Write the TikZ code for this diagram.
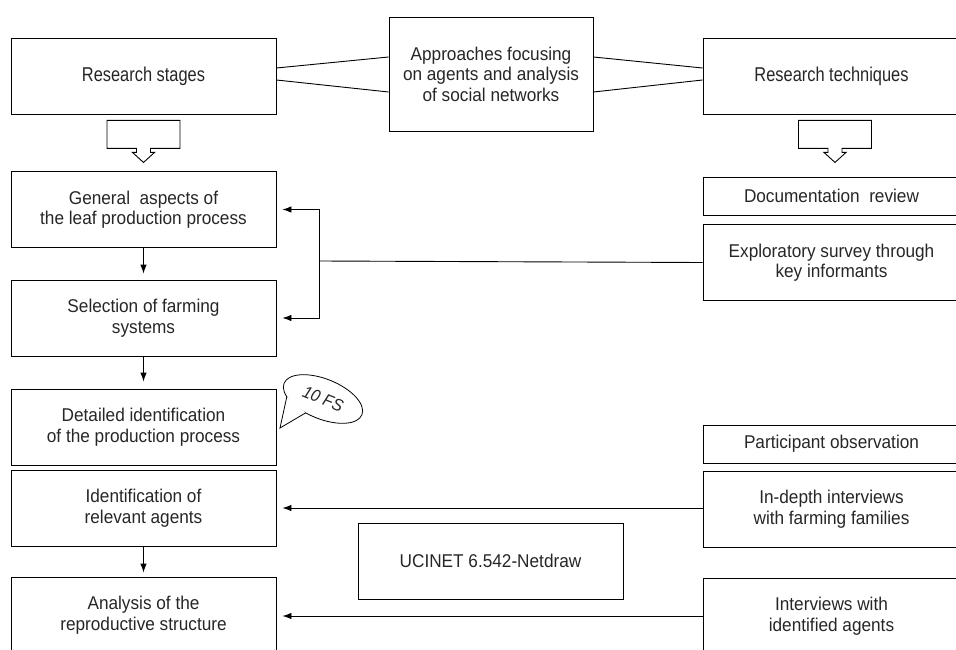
\documentclass[tikz,border=0pt]{standalone}
\usepackage{fontspec}
\setmainfont[FakeStretch=0.93]{Liberation Sans}
\newfontfamily\headfont[FakeStretch=0.82]{Liberation Sans}
\usepackage{tikz}
\usetikzlibrary{arrows.meta}

\begin{document}
\begin{tikzpicture}[x=1pt,y=-1pt,>={Latex[length=9pt,width=6.5pt]},
  box/.style={draw,line width=0.9pt,align=center,inner sep=0pt,
    text=black!85,font=\fontsize{18.5}{20.5}\selectfont},
  head/.style={box,font=\headfont\fontsize{20}{22}\selectfont},
  big/.style={box,minimum width=265pt,minimum height=76pt},
  flat/.style={box,minimum width=257pt,minimum height=38pt},
  tall/.style={box,minimum width=257pt,minimum height=76pt},
  link/.style={line width=0.9pt},
  hollow/.style={draw,line width=0.9pt,fill=white}]
\useasboundingbox (0,0) rectangle (956,650);
\clip (0,0) rectangle (956,650);
%%%HEADINGS
\node[big,head] (stages) at (143.5,76) {Research stages};
\node[box,minimum width=204pt,minimum height=114pt] (approach) at (491,74)
  {Approaches focusing\\ on agents and analysis\\ of social networks};
\node[tall,head] (techniques) at (831.5,76) {Research techniques};
%%%RESEARCH STAGES
\node[big] (general) at (143.5,209.5) {General\ \ aspects of\\ the leaf production process};
\node[big] (selection) at (143.5,318) {Selection of farming\\ systems};
\node[big] (detailed) at (143.5,427) {Detailed identification\\ of the production process};
\node[big] (relevant) at (143.5,508) {Identification of\\ relevant agents};
\node[big] (analysis) at (143.5,615) {Analysis of the\\ reproductive structure};
\node[big] (ucinet) at (490.5,561) {UCINET 6.542-Netdraw};
%%%RESEARCH TECHNIQUES
\node[flat] (docs) at (831.5,196) {Documentation\ \ review};
\node[tall] (survey) at (831.5,262.5) {Exploratory survey through\\ key informants};
\node[flat] (participant) at (831.5,444) {Participant observation};
\node[tall] (indepth) at (831.5,509) {In-depth interviews\\ with farming families};
\node[tall] (interviews) at (831.5,616) {Interviews with\\ identified agents};
%%%CALLOUT
\coordinate (fsc) at (323,399);
\begin{scope}[shift={(fsc)},rotate=-22]
\draw[line width=0.8pt] (0,0) ellipse [x radius=42pt,y radius=20pt];
\draw[line width=0.8pt,fill=white] (215:42pt and 20pt) -- (-29pt,-43pt) -- (255:42pt and 20pt);
\end{scope}
\node[rotate=-22,inner sep=0pt,text=black!85,font=\fontsize{17}{17}\selectfont\itshape] (fs) at (fsc) {10 FS};
%%%HOLLOW ARROWS
\begin{scope}[shift={(stages.south)}]
\path[hollow] (-7,34) -- (-36.5,34) -- (-36.5,6) -- (36.5,6) -- (36.5,34)
  -- (7,34) -- (7,38) -- (11,38) -- (0,48) -- (-11,38) -- (-7,38) -- cycle;
\end{scope}
\begin{scope}[shift={([xshift=3.5pt]techniques.south)}]
\path[hollow] (-7,34) -- (-36.5,34) -- (-36.5,6) -- (36.5,6) -- (36.5,34)
  -- (7,34) -- (7,38) -- (11,38) -- (0,48) -- (-11,38) -- (-7,38) -- cycle;
\end{scope}
%%%LINKS TO APPROACHES
\draw[link] ([yshift=8pt]stages.east) -- ([yshift=17pt]approach.west);
\draw[link] ([yshift=-4pt]stages.east) -- ([yshift=-18pt]approach.west);
\draw[link] ([yshift=17pt]approach.east) -- ([yshift=8pt]techniques.west);
\draw[link] ([yshift=-18pt]approach.east) -- ([yshift=-4pt]techniques.west);
%%%FLOW
\draw[link,->,shorten >=6pt] (general) -- (selection);
\draw[link,->,shorten >=7pt] (selection) -- (detailed);
\draw[link,->,shorten >=4pt] (relevant) -- (analysis);
\coordinate (split) at (319,261);
\draw[link] (survey.west) -- (split);
\draw[link,->,shorten >=6pt] (split) |- (general.east);
\draw[link,->,shorten >=6pt] (split) |- (selection.east);
\draw[link,->,shorten >=6pt] (indepth.west |- relevant.east) -- (relevant.east);
\draw[link,->,shorten >=6pt] (interviews.west) -- (interviews.west -| analysis.east);
\end{tikzpicture}
\end{document}
